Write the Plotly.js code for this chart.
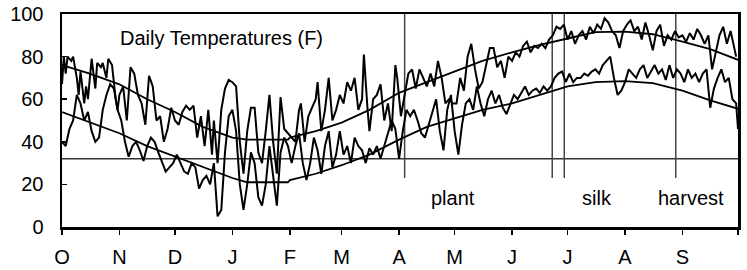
<!DOCTYPE html>
<html>
<head>
<meta charset="utf-8">
<script src="https://cdn.plot.ly/plotly-3.0.1.min.js"></script>
<style>html,body{margin:0;padding:0;background:#fff;}#chart{width:747px;height:270px;}</style>
</head>
<body>
<div id="chart"></div>
<script>
// Days counted from Oct 1 (day 0) to Sep 30 (day 364)
const monthDays = [0, 31, 61, 92, 123, 151, 182, 212, 243, 273, 304, 335, 365];
const monthLabels = ["O", "N", "D", "J", "F", "M", "A", "M", "J", "J", "A", "S", ""];

// Daily maximum temperature (F)
const maxDays = [0,1,2,3,5,6,8,9,10,12,13,14,16,18,19,21,22,24,25,27,29,30,
  31,33,35,37,39,41,43,45,47,49,51,53,55,57,59,
  61,63,65,67,69,71,73,75,77,79,81,82,84,86,88,90,
  92,94,96,98,100,102,104,106,108,110,112,114,116,118,120,122,
  124,126,128,129,131,133,135,137,138,140,142,144,146,148,150,
  152,154,156,158,160,162,163,165,166,168,170,172,174,176,178,180,181,
  183,185,187,189,191,193,195,197,199,201,203,205,207,209,211,
  213,215,217,219,221,223,225,227,229,231,233,235,237,239,241,
  243,245,247,249,251,253,255,257,259,261,263,265,267,269,271,
  273,275,277,279,281,283,285,287,289,291,293,295,297,299,301,303,
  305,307,309,311,313,315,317,319,321,323,325,327,329,331,333,
  335,337,339,341,343,345,347,349,351,353,355,357,359,361,363,364];
const maxVals = [67,80,72,80,78,80,70,62,73,58,66,60,79,65,77,75,77,70,79,76,60,55,
  62,66,50,75,72,62,58,48,71,66,50,52,40,46,56,
  50,48,54,57,55,57,42,52,38,55,34,50,30,55,65,69,
  68,66,40,25,45,56,56,35,30,45,62,40,25,61,46,44,
  42,40,55,58,40,52,56,60,68,45,55,70,50,55,62,
  58,68,64,70,55,60,81,55,45,60,62,67,50,58,45,76,70,
  52,62,72,74,65,74,70,66,72,66,78,70,58,60,58,
  58,70,64,80,86,74,65,68,76,84,84,75,78,70,80,
  78,82,80,85,87,82,85,84,86,84,88,90,94,93,95,
  88,92,86,90,92,88,94,91,95,93,98,96,92,90,84,92,
  95,97,92,94,88,96,90,83,92,95,85,90,88,92,89,
  90,87,91,88,93,90,86,90,74,82,90,94,86,92,84,80];

// Daily minimum temperature (F)
const minDays = [0,2,4,6,8,10,12,14,16,18,20,22,24,26,28,30,
  32,34,36,38,40,42,44,46,48,50,52,54,56,58,60,
  62,64,66,68,70,72,74,76,78,80,82,84,86,88,90,
  92,94,96,98,100,102,104,106,108,110,112,114,116,118,120,122,
  124,126,128,130,132,134,136,138,140,142,144,146,148,150,
  152,154,156,158,160,162,164,166,168,170,172,174,176,178,180,182,
  184,186,188,190,192,194,196,198,200,202,204,206,208,210,212,
  214,216,218,220,222,224,226,228,230,232,234,236,238,240,242,
  244,246,248,250,252,254,256,258,260,262,264,266,268,270,272,
  274,276,278,280,282,284,286,288,290,292,294,296,298,300,302,
  304,306,308,310,312,314,316,318,320,322,324,326,328,330,332,
  334,336,338,340,342,344,346,348,350,352,354,356,358,360,362,364,365];
const minVals = [40,38,46,50,62,58,50,54,45,40,42,55,62,67,65,55,
  50,40,33,38,40,36,31,38,42,40,35,30,26,28,30,
  34,30,26,25,30,28,18,22,24,20,30,5,8,35,52,
  55,45,20,8,20,35,30,14,10,20,38,25,10,35,42,38,
  30,38,44,30,22,30,42,36,25,38,45,28,34,45,
  34,38,30,42,38,36,30,37,34,38,32,38,44,50,46,32,
  45,55,52,55,50,44,42,48,55,60,45,36,55,62,45,
  34,48,58,60,55,66,58,52,60,64,58,62,56,53,58,
  62,60,63,66,62,64,65,63,66,64,66,70,72,73,68,
  72,68,70,70,72,71,73,74,72,76,78,80,70,62,64,
  68,74,72,70,74,76,70,73,76,72,74,69,76,70,74,
  72,68,74,70,72,68,72,74,56,65,70,74,68,70,60,58,46];

// Normal (long-term average) max and min curves
const normDays = [0,15,31,46,61,76,92,100,122,123,137,151,166,182,197,212,227,243,258,273,288,304,319,335,350,365];
const normMax  = [76,72,67,60,54,47,42,41,41,42,45,49,55,63,68,73,78,82,85.5,88.5,91.5,91.7,90.5,87,83.5,78.5];
const normMin  = [54,49,44,38,33,28,23,21,21,22,25,29,34,41,47,51,55,58,62,66,68,68.5,67.5,64,59.5,55.5];

const freezeLine = 32;
const eventDays = [185, 264.7, 271.2, 331.4];
const eventLineBottom = 23;
const labels = [
  {text: "Daily Temperatures (F)", day: 30, val: 88.7, anchor: "left"},
  {text: "plant", day: 211, val: 13.6, anchor: "center"},
  {text: "silk", day: 289, val: 13.6, anchor: "center"},
  {text: "harvest", day: 339.6, val: 13.6, anchor: "center"}
];

const font = "Liberation Sans, Arial, sans-serif";
const lineStyle = {color: "#000", width: 2};

const traces = [
  {x: normDays, y: normMax, mode: "lines", line: {color: "#000", width: 1.8}},
  {x: normDays, y: normMin, mode: "lines", line: {color: "#000", width: 1.8}},
  {x: maxDays, y: maxVals, mode: "lines", line: lineStyle},
  {x: minDays, y: minVals, mode: "lines", line: lineStyle}
];

const shapes = [
  {type: "line", xref: "x", yref: "y", x0: monthDays[0], x1: monthDays[monthDays.length-1], y0: freezeLine, y1: freezeLine,
   line: {color: "#333", width: 1.5}, layer: "below"}
].concat(eventDays.map(d => ({
  type: "line", xref: "x", yref: "y", x0: d, x1: d, y0: eventLineBottom, y1: 100,
  line: {color: "#444", width: 1.5}, layer: "below"
})));

const annotations = labels.map(l => ({
  text: l.text, x: l.day, y: l.val, xref: "x", yref: "y", showarrow: false,
  xanchor: l.anchor, yanchor: "middle", font: {family: font, size: 20, color: "#000"}
}));

const layout = {
  width: 747, height: 270,
  margin: {l: 62, r: 9, t: 14, b: 43},
  paper_bgcolor: "#fff", plot_bgcolor: "#fff",
  showlegend: false,
  xaxis: {
    range: [monthDays[0], monthDays[monthDays.length-1]],
    tickvals: monthDays, ticktext: monthLabels,
    ticks: "outside", ticklen: 5, tickwidth: 1.5, tickcolor: "#000",
    showline: true, linewidth: 2.5, linecolor: "#000", mirror: true,
    showgrid: false, zeroline: false,
    tickfont: {family: font, size: 20, color: "#000"},
    ticklabelstandoff: 5
  },
  yaxis: {
    range: [0, 100], tickvals: [0, 20, 40, 60, 80, 100],
    ticks: "inside", ticklen: 5, tickwidth: 1.5, tickcolor: "#000",
    showline: true, linewidth: 2.5, linecolor: "#000", mirror: true,
    showgrid: false, zeroline: false,
    tickfont: {family: font, size: 20, color: "#000"},
    ticklabelstandoff: 12
  },
  shapes: shapes,
  annotations: annotations
};

Plotly.newPlot("chart", traces, layout, {staticPlot: true, displayModeBar: false});
</script>
</body>
</html>
